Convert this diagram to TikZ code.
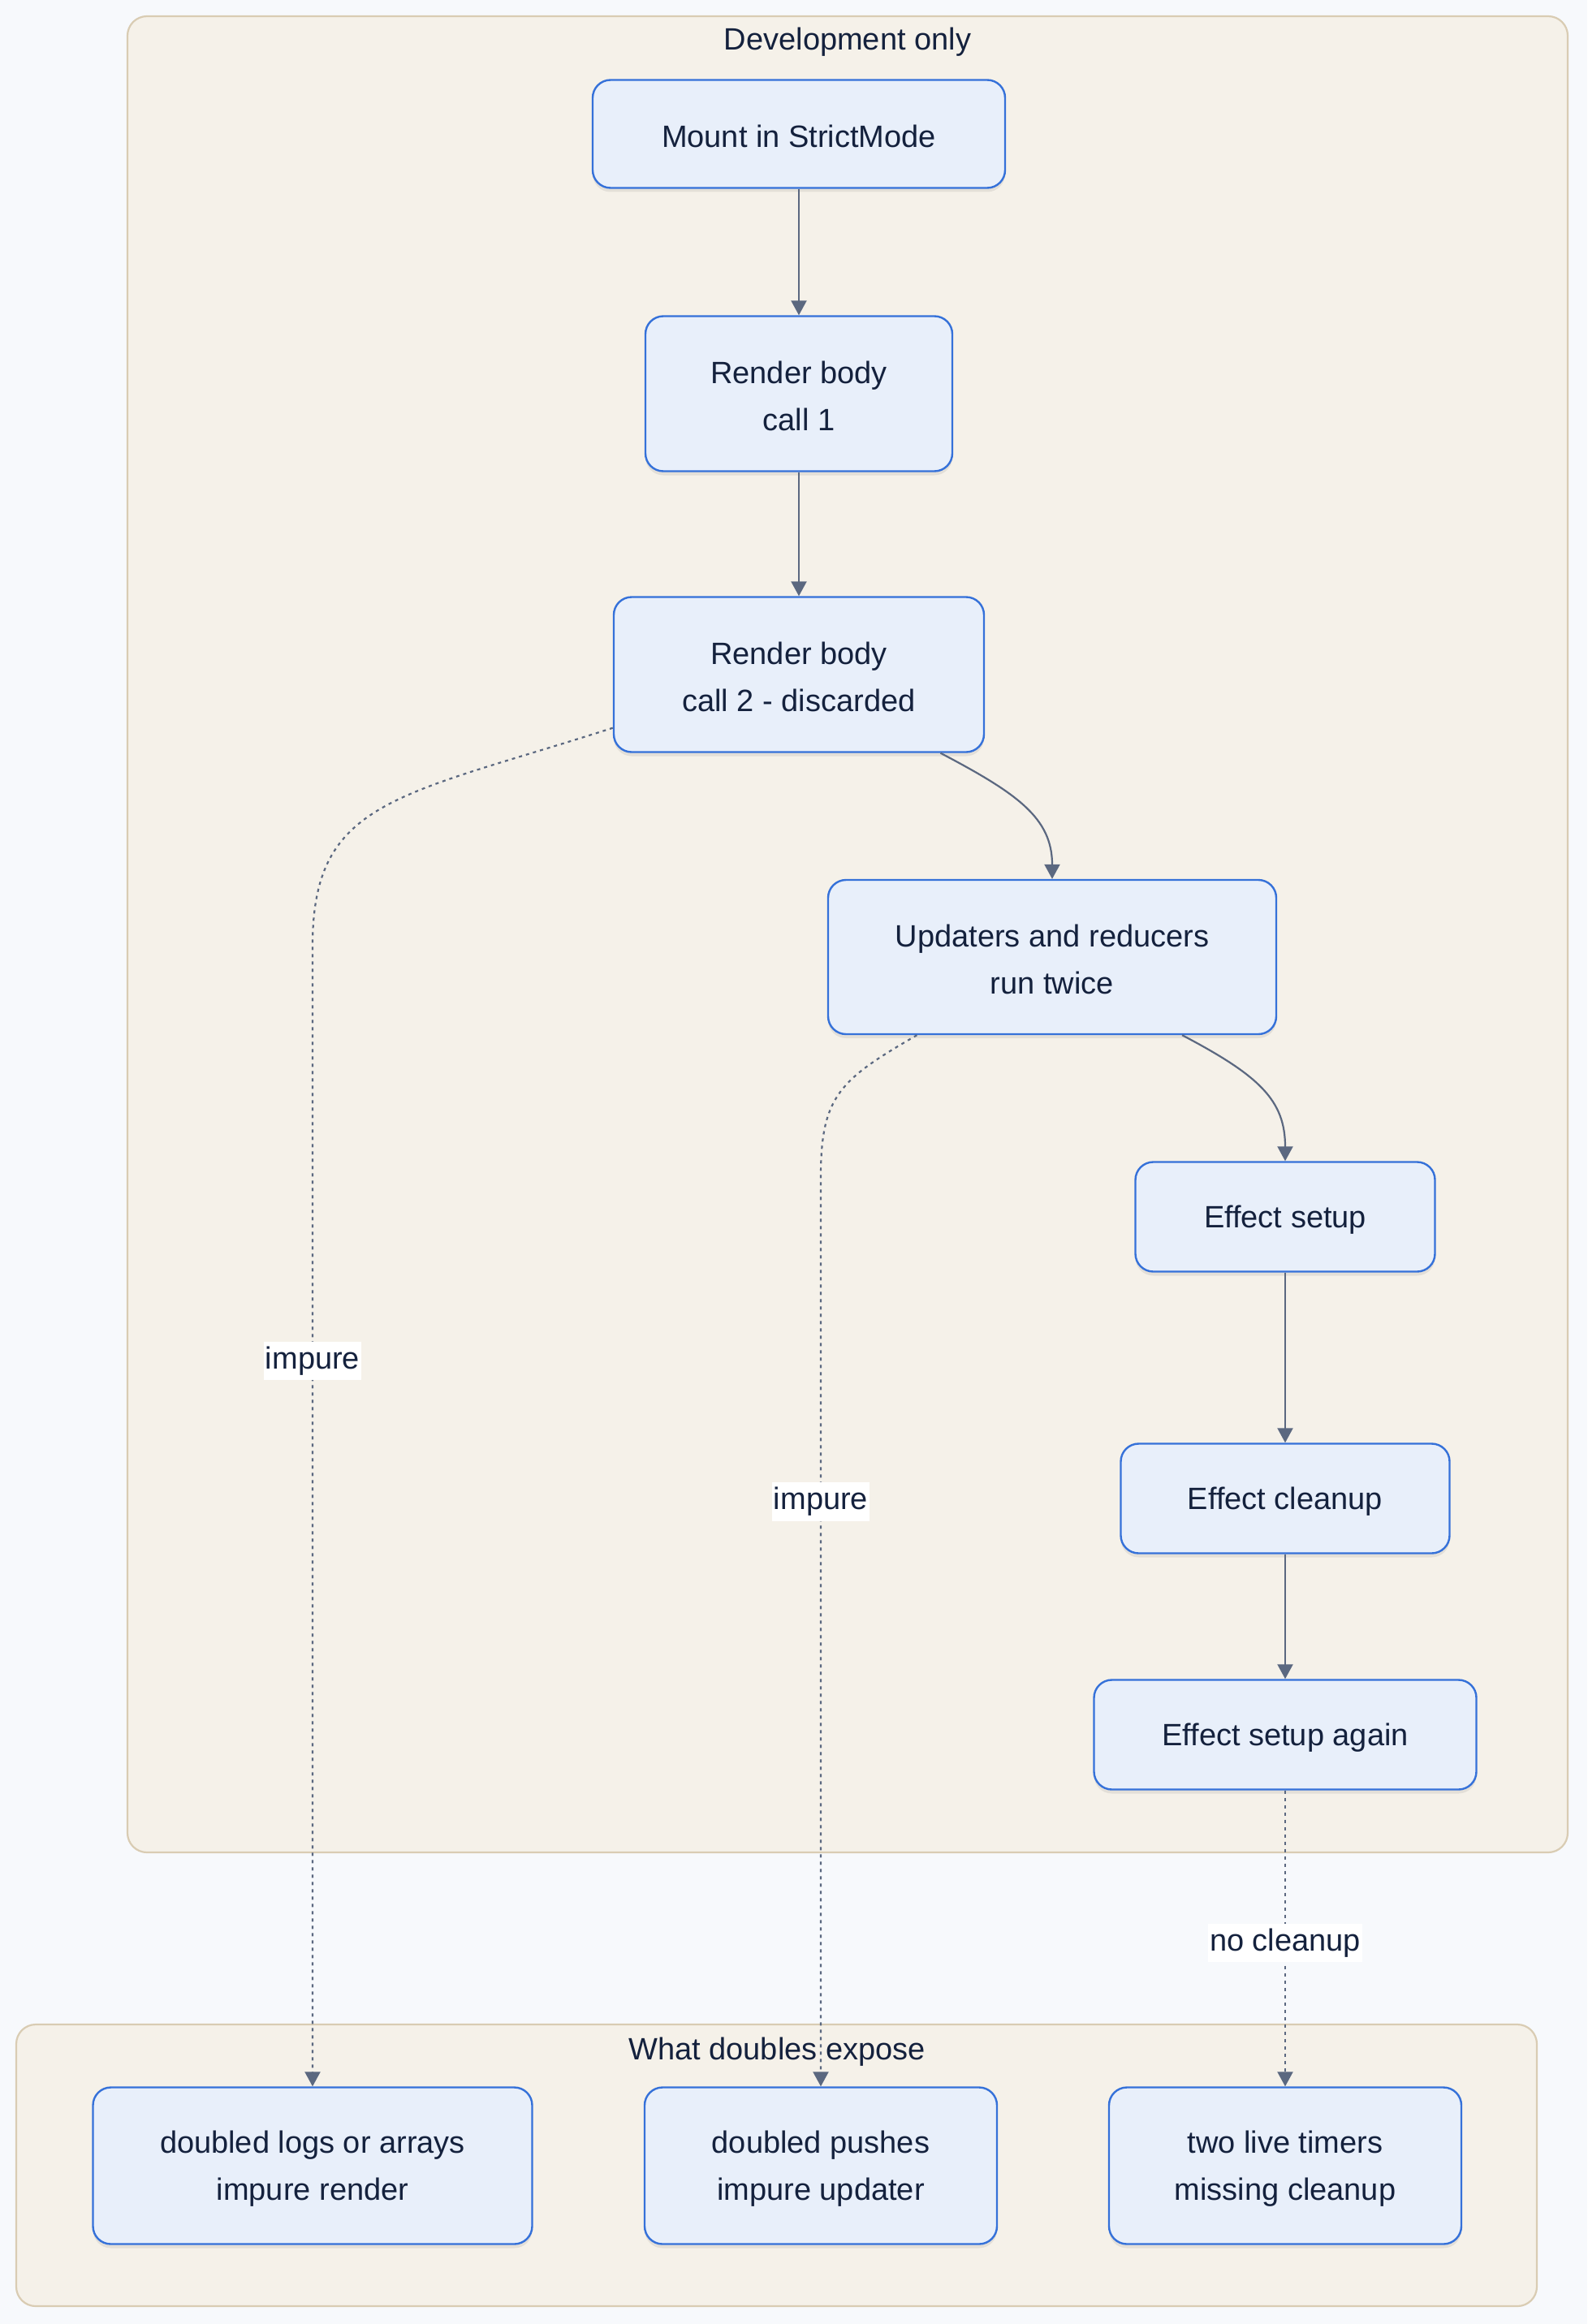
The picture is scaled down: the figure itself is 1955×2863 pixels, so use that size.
\documentclass[tikz,border=0pt]{standalone}
\usepackage{fontspec}
\setmainfont{Liberation Sans}
\usetikzlibrary{arrows.meta,shadows,calc}
\definecolor{bgc}{HTML}{F7F9FC}
\definecolor{clfill}{HTML}{F5F1E9}
\definecolor{cldraw}{HTML}{D9CCB3}
\definecolor{ndfill}{HTML}{E8EFFA}
\definecolor{nddraw}{HTML}{3571D9}
\definecolor{txt}{HTML}{14213D}
\definecolor{edgec}{HTML}{5B6880}
\newcommand{\tp}{\rule{0pt}{34pt}}
\tikzset{
  box/.style={draw=nddraw, fill=ndfill, line width=2.4pt, rounded corners=22pt,
    align=center, text=txt, font=\fontsize{38}{58}\selectfont, inner sep=0pt,
    drop shadow={shadow xshift=0pt, shadow yshift=-5pt, opacity=0.07, fill=black}},
  cluster/.style={draw=cldraw, fill=clfill, line width=2.2pt, rounded corners=24pt},
  ctitle/.style={text=txt, font=\fontsize{38}{46}\selectfont, inner sep=0pt},
  flow/.style={draw=edgec, line width=2.2pt, -{Triangle[length=18pt,width=19pt]}},
  weak/.style={flow, dash pattern=on 4pt off 5pt},
  elabel/.style={fill=white, text=txt, font=\fontsize{38}{46}\selectfont, inner xsep=2pt, inner ysep=6pt}
}
\begin{document}
\begin{tikzpicture}[x=1pt,y=-1pt]
\fill[bgc] (0,0) rectangle (1955,2863);
\useasboundingbox (0,0) rectangle (1955,2863);
% clusters
\draw[cluster] (157,20) rectangle (1931,2282);
\node[ctitle] (t1) at (1044,52) {Development only};
\draw[cluster] (20,2494) rectangle (1893,2841);
\node[ctitle] (t2) at (957,2528) {What doubles expose};
% nodes
\node[box, minimum width=508pt, minimum height=133pt] (mount) at (984,165) {\tp Mount in StrictMode};
\node[box, minimum width=378pt, minimum height=191pt] (r1) at (984,485) {\tp Render body\\call 1};
\node[box, minimum width=456pt, minimum height=191pt] (r2) at (984,831) {\tp Render body\\call 2 - discarded};
\node[box, minimum width=552pt, minimum height=190pt] (upd) at (1296,1179) {\tp Updaters and reducers\\run twice};
\node[box, minimum width=369pt, minimum height=135pt] (es) at (1583,1499) {\tp Effect setup};
\node[box, minimum width=405pt, minimum height=135pt] (ec) at (1583,1846) {\tp Effect cleanup};
\node[box, minimum width=471pt, minimum height=135pt] (esa) at (1583,2137) {\tp Effect setup again};
\node[box, minimum width=541pt, minimum height=193pt] (b1) at (385,2668) {\tp doubled logs or arrays\\impure render};
\node[box, minimum width=434pt, minimum height=193pt] (b2) at (1011,2668) {\tp doubled pushes\\impure updater};
\node[box, minimum width=434pt, minimum height=193pt] (b3) at (1583,2668) {\tp two live timers\\missing cleanup};
% bends
\coordinate (k1) at (385,1165);
\coordinate (k2) at (1011,1450);
% edges
\draw[flow] (mount) -- (r1);
\draw[flow] (r1) -- (r2);
\draw[flow] (r2.-29) .. controls +(95,50) and +(0,-75) .. (upd.north);
\draw[flow] (upd.-31) .. controls +(95,50) and +(0,-75) .. (es.north);
\draw[flow] (es) -- (ec);
\draw[flow] (ec) -- (esa);
\draw[weak] (r2.196) .. controls +(-265,85) and +(0,-180) .. (k1) -- (b1.north)
  node[elabel, pos=0.364] (l1) {impure};
\draw[weak] (upd.210.5) .. controls +(-95,55) and +(0,-100) .. (k2) -- (b2.north)
  node[elabel, pos=0.357] (l2) {impure};
\draw[weak] (esa) -- (b3) node[elabel, pos=0.515] (l3) {no cleanup};
\end{tikzpicture}
\end{document}
